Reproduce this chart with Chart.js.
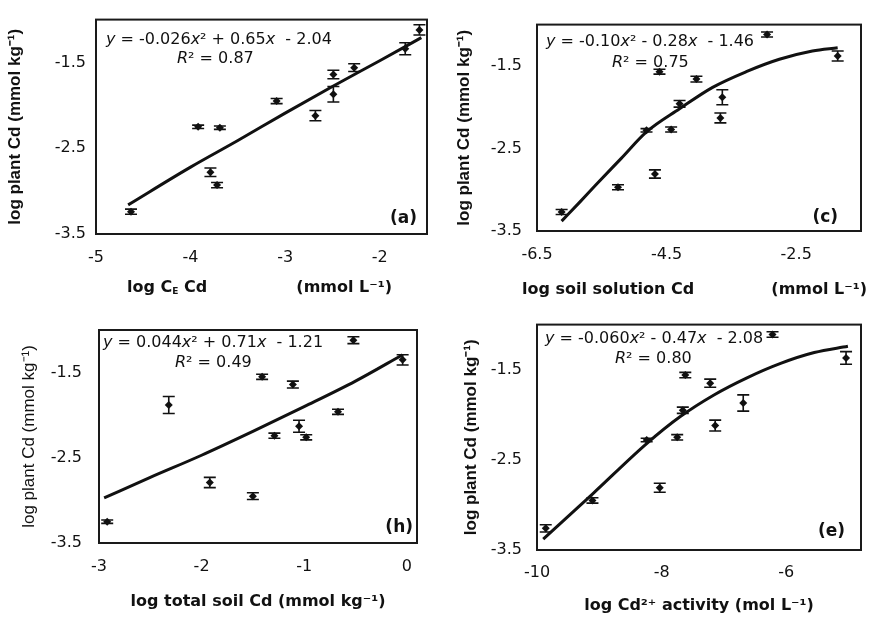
<!DOCTYPE html>
<html><head><meta charset="utf-8">
<script src="https://cdn.jsdelivr.net/npm/chart.js@4.4.0/dist/chart.umd.min.js"></script>
<style>
html,body{margin:0;padding:0;background:#fff;}
#wrap{position:relative;width:870px;height:617px;overflow:hidden;background:#fff;}
canvas{position:absolute;}
</style></head><body>
<div id="wrap">
<canvas id="ca" width="435" height="300" style="left:0;top:0"></canvas>
<canvas id="cc" width="435" height="300" style="left:435px;top:0"></canvas>
<canvas id="ch" width="435" height="317" style="left:0;top:300px"></canvas>
<canvas id="ce" width="435" height="317" style="left:435px;top:300px"></canvas>
</div>
<script>
// ---- shared y axis ----
const yTicks = [-3.5, -2.5, -1.5];
const yMin = -3.5, yMax = -1.0;

// ---- panel (a): log CE Cd ----
const aXTicks = [-5, -4, -3, -2];
const aX   = [-4.63, -3.92, -3.69, -3.79, -3.72, -3.09, -2.68, -2.49, -2.49, -2.27, -1.73, -1.58];
const aY   = [-3.24, -2.25, -2.26, -2.78, -2.93, -1.95, -2.12, -1.64, -1.87, -1.56, -1.34, -1.12];
const aErr = [0.03, 0.02, 0.02, 0.05, 0.03, 0.03, 0.06, 0.05, 0.09, 0.045, 0.07, 0.06];
const aFitX = [-4.66, -4.0, -3.5, -3.0, -2.5, -2.0, -1.56];
const aFitY = [-3.16, -2.72, -2.41, -2.09, -1.78, -1.48, -1.21];

// ---- panel (c): log soil solution Cd ----
const cXTicks = [-6.5, -4.5, -2.5];
const cX   = [-6.12, -5.25, -4.81, -4.68, -4.61, -4.43, -4.30, -4.04, -3.64, -3.67, -2.95, -1.86];
const cY   = [-3.27, -2.97, -2.28, -2.81, -1.57, -2.27, -1.96, -1.66, -1.88, -2.13, -1.12, -1.38];
const cErr = [0.03, 0.03, 0.02, 0.05, 0.03, 0.03, 0.04, 0.035, 0.09, 0.06, 0.03, 0.06];
const cFitX = [-6.12, -5.84, -5.59, -5.2, -4.81, -4.30, -3.79, -3.27, -2.76, -2.25, -1.86];
const cFitY = [-3.38, -3.15, -2.94, -2.62, -2.30, -2.02, -1.76, -1.57, -1.42, -1.32, -1.28];

// ---- panel (h): log total soil Cd ----
const hXTicks = [-3, -2, -1, 0];
const hX   = [-2.92, -2.32, -1.92, -1.50, -1.41, -1.29, -1.11, -1.05, -0.98, -0.67, -0.52, -0.04];
const hY   = [-3.25, -1.88, -2.79, -2.95, -1.55, -2.24, -1.64, -2.13, -2.26, -1.96, -1.12, -1.35];
const hErr = [0.02, 0.10, 0.06, 0.04, 0.03, 0.03, 0.04, 0.07, 0.03, 0.03, 0.04, 0.06];
const hFitX = [-2.95, -2.5, -2.0, -1.5, -1.0, -0.5, -0.04];
const hFitY = [-2.97, -2.73, -2.47, -2.19, -1.90, -1.60, -1.29];

// ---- panel (e): log Cd2+ activity ----
const eXTicks = [-10, -8, -6];
const eX   = [-9.86, -9.11, -8.24, -8.03, -7.75, -7.66, -7.62, -7.22, -7.14, -6.69, -6.22, -5.04];
const eY   = [-3.26, -2.95, -2.28, -2.81, -2.25, -1.95, -1.56, -1.65, -2.12, -1.87, -1.11, -1.37];
const eErr = [0.04, 0.03, 0.02, 0.05, 0.03, 0.035, 0.03, 0.045, 0.06, 0.09, 0.03, 0.07];
const eFitX = [-9.9, -9.11, -8.24, -7.70, -7.16, -6.63, -6.09, -5.55, -5.01];
const eFitY = [-3.38, -2.88, -2.32, -2.02, -1.78, -1.59, -1.43, -1.31, -1.24];

const FONT_H = "'DejaVu Sans', sans-serif";
const FONT_V = "'Liberation Sans', Arial, sans-serif";
const INK = '#111';

function richWidth(ctx, pieces, size, bold) {
  let w = 0;
  for (const p of pieces) {
    ctx.font = (p.i ? 'italic ' : '') + (bold ? 'bold ' : '') + Math.round(size * (p.s || 1)) + 'px ' + FONT_H;
    w += ctx.measureText(p.t).width;
  }
  return w;
}
function richDraw(ctx, pieces, x, y, size, bold, align) {
  let cx = x;
  if (align === 'right') cx = x - richWidth(ctx, pieces, size, bold);
  ctx.textAlign = 'left';
  for (const p of pieces) {
    ctx.font = (p.i ? 'italic ' : '') + (bold ? 'bold ' : '') + Math.round(size * (p.s || 1)) + 'px ' + FONT_H;
    ctx.fillText(p.t, cx, y + (p.dy || 0));
    cx += ctx.measureText(p.t).width;
  }
}

const decor = {
  id: 'decor',
  afterDatasetsDraw(chart, args, o) {
    const {ctx, chartArea: ca} = chart;
    const xs = chart.scales.x, ys = chart.scales.y;
    ctx.save();
    ctx.strokeStyle = INK; ctx.lineWidth = 1.6;
    o.xv.forEach((v, i) => {
      const px = xs.getPixelForValue(v);
      const t = ys.getPixelForValue(o.yv[i] + o.err[i]);
      const b = ys.getPixelForValue(o.yv[i] - o.err[i]);
      ctx.beginPath();
      ctx.moveTo(px, t); ctx.lineTo(px, b);
      ctx.moveTo(px - 6, t); ctx.lineTo(px + 6, t);
      ctx.moveTo(px - 6, b); ctx.lineTo(px + 6, b);
      ctx.stroke();
    });
    ctx.lineWidth = 2; ctx.strokeStyle = '#1a1a1a';
    ctx.strokeRect(ca.left, ca.top, ca.right - ca.left, ca.bottom - ca.top);
    ctx.fillStyle = INK; ctx.textBaseline = 'middle';
    richDraw(ctx, o.eq, ca.left + o.eqPos[0], ca.top + o.eqPos[1], 16, false);
    richDraw(ctx, o.r2, ca.left + o.r2Pos[0], ca.top + o.r2Pos[1], 16, false);
    ctx.font = 'bold 17px ' + FONT_H; ctx.textAlign = 'right';
    ctx.fillText(o.letter, ca.right + o.letterPos[0], ca.bottom + o.letterPos[1]);
    if (o.xt) {
      richDraw(ctx, o.xt.left, o.xt.lx, o.xt.y, 16, true, 'left');
      richDraw(ctx, o.xt.right, o.xt.rx, o.xt.y, 16, true, 'right');
    }
    ctx.restore();
  }
};

function build(id, P) {
  return new Chart(document.getElementById(id), {
    type: 'scatter',
    data: { datasets: [
      { data: P.xv.map((x, i) => ({x, y: P.yv[i]})), showLine: false,
        pointStyle: 'rectRot', pointRadius: 4, backgroundColor: INK, borderColor: INK, borderWidth: 0, order: 1 },
      { data: P.fx.map((x, i) => ({x, y: P.fy[i]})), showLine: true, pointRadius: 0,
        borderColor: INK, borderWidth: 3, cubicInterpolationMode: 'monotone', tension: 0.4, fill: false, order: 2 }
    ]},
    options: {
      responsive: false, animation: false, events: [],
      layout: { padding: { top: P.pad[0], right: P.pad[1], bottom: 0, left: 0 } },
      plugins: {
        legend: { display: false }, tooltip: { enabled: false },
        decor: { xv: P.xv, yv: P.yv, err: P.err, eq: P.eq, r2: P.r2, eqPos: P.eqPos, r2Pos: P.r2Pos,
                 letter: P.letter, letterPos: P.letterPos, xt: P.xt }
      },
      scales: {
        x: {
          type: 'linear', min: P.xMin, max: P.xMax,
          grid: { display: false, drawTicks: false }, border: { display: false },
          ticks: { font: { family: FONT_H, size: 16 }, color: INK, padding: P.xTickPad, maxRotation: 0, autoSkip: false,
                   callback: v => String(v) },
          afterBuildTicks: s => { s.ticks = P.xTicks.map(v => ({value: v})); },
          afterFit: s => { s.height = P.xh; },
          title: P.xTitle ? { display: true, text: P.xTitle, color: INK,
                   font: { family: FONT_H, size: 16, weight: 'bold' }, padding: { top: 0, bottom: P.xTitlePad } }
                 : { display: false }
        },
        y: {
          type: 'linear', min: yMin, max: yMax,
          grid: { display: false, drawTicks: false }, border: { display: false },
          ticks: { font: { family: FONT_H, size: 16 }, color: INK, padding: P.yTickPad, autoSkip: false,
                   callback: v => String(v) },
          afterBuildTicks: s => { s.ticks = yTicks.map(v => ({value: v})); },
          afterFit: s => { s.width = P.yw; },
          title: { display: true, text: 'log plant Cd (mmol kg\u207B\u00B9)', color: INK,
                   font: { family: FONT_V, size: 17, weight: P.yBold ? 'bold' : 'normal' },
                   padding: { top: P.yTitlePad, bottom: 0 } }
        }
      }
    },
    plugins: [decor]
  });
}

build('ca', {
  xv: aX, yv: aY, err: aErr, fx: aFitX, fy: aFitY, xTicks: aXTicks, xMin: -5, xMax: -1.5,
  pad: [9, 8], yw: 96, xh: 66, xTickPad: 14, yTickPad: 10, yTitlePad: 5, yBold: true,
  eq: [{t:'y', i:1}, {t:' = -0.026'}, {t:'x', i:1}, {t:'\u00B2 + 0.65'}, {t:'x', i:1}, {t:'  - 2.04'}],
  r2: [{t:'R', i:1}, {t:'\u00B2 = 0.87'}], eqPos: [10, 20], r2Pos: [81, 39],
  letter: '(a)', letterPos: [-10, -15],
  xt: { left: [{t:'log C'}, {t:'E', s:0.55, dy:4}, {t:' Cd'}], lx: 127,
        right: [{t:'(mmol L\u207B\u00B9)'}], rx: 392, y: 288 }
});
build('cc', {
  xv: cX, yv: cY, err: cErr, fx: cFitX, fy: cFitY, xTicks: cXTicks, xMin: -6.5, xMax: -1.5,
  pad: [11, 9], yw: 102, xh: 69, xTickPad: 14, yTickPad: 15, yTitlePad: 19, yBold: true,
  eq: [{t:'y', i:1}, {t:' = -0.10'}, {t:'x', i:1}, {t:'\u00B2 - 0.28'}, {t:'x', i:1}, {t:'  - 1.46'}],
  r2: [{t:'R', i:1}, {t:'\u00B2 = 0.75'}], eqPos: [9, 17], r2Pos: [75, 38],
  letter: '(c)', letterPos: [-23, -13],
  xt: { left: [{t:'log soil solution Cd'}], lx: 87,
        right: [{t:'(mmol L\u207B\u00B9)'}], rx: 432, y: 290 }
});
build('ch', {
  xv: hX, yv: hY, err: hErr, fx: hFitX, fy: hFitY, xTicks: hXTicks, xMin: -3, xMax: 0.1,
  pad: [30, 18], yw: 99, xh: 74, xTickPad: 14, yTickPad: 17, yTitlePad: 19, yBold: false,
  xTitle: 'log total soil Cd (mmol kg\u207B\u00B9)', xTitlePad: 6,
  eq: [{t:'y', i:1}, {t:' = 0.044'}, {t:'x', i:1}, {t:'\u00B2 + 0.71'}, {t:'x', i:1}, {t:'  - 1.21'}],
  r2: [{t:'R', i:1}, {t:'\u00B2 = 0.49'}], eqPos: [4, 13], r2Pos: [76, 33],
  letter: '(h)', letterPos: [-4, -15]
});
build('ce', {
  xv: eX, yv: eY, err: eErr, fx: eFitX, fy: eFitY, xTicks: eXTicks, xMin: -10, xMax: -4.8,
  pad: [21, 9], yw: 102, xh: 67, xTickPad: 13, yTickPad: 15, yTitlePad: 26, yBold: true,
  xTitle: 'log Cd\u00B2\u207A activity (mol L\u207B\u00B9)', xTitlePad: 2,
  eq: [{t:'y', i:1}, {t:' = -0.060'}, {t:'x', i:1}, {t:'\u00B2 - 0.47'}, {t:'x', i:1}, {t:'  - 2.08'}],
  r2: [{t:'R', i:1}, {t:'\u00B2 = 0.80'}], eqPos: [8, 14], r2Pos: [78, 34],
  letter: '(e)', letterPos: [-16, -18]
});
</script>
</body></html>
